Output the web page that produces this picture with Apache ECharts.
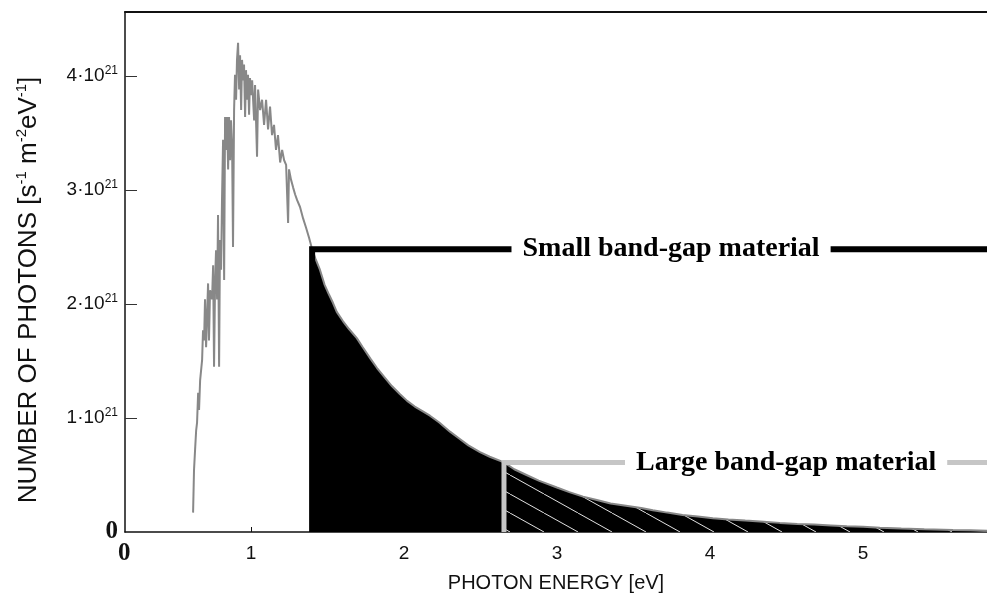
<!DOCTYPE html>
<html>
<head>
<meta charset="utf-8">
<script src="https://cdn.jsdelivr.net/npm/echarts@6/dist/echarts.min.js"></script>
<style>html,body{margin:0;padding:0;background:#fff}#c{width:987px;height:600px}</style>
</head>
<body>
<div id="c"></div>
<script>
// Photon energy [eV]
const energy = [
0.621,0.627,0.634,0.641,0.647,0.654,0.660,0.667,0.680,0.686,0.693,0.699,0.706,0.719,0.725,0.732,0.745,0.752,0.758,0.765,
0.771,0.778,0.784,0.791,0.797,0.804,0.810,0.817,0.824,0.830,0.837,0.843,0.850,0.856,0.863,0.869,0.876,0.882,0.889,0.895,
0.902,0.908,0.915,0.922,0.928,0.935,0.941,0.948,0.954,0.961,0.967,0.974,0.980,0.987,0.993,1.000,1.007,1.020,1.026,1.039,
1.046,1.059,1.072,1.085,1.098,1.111,1.124,1.137,1.150,1.163,1.176,1.190,1.203,1.216,1.229,1.242,1.248,1.261,1.275,1.288,
1.301,1.320,1.340,1.359,1.379,1.399,1.42,1.45,1.48,1.51,1.535,1.56,1.60,1.64,1.691,1.73,1.78,1.822,1.87,1.92,
1.972,2.02,2.07,2.12,2.169,2.23,2.30,2.36,2.42,2.496,2.56,2.653,2.72,2.80,2.88,2.999,3.08,3.17,3.26,3.35,
3.45,3.55,3.626,3.72,3.82,3.92,4.018,4.12,4.23,4.35,4.456,4.57,4.68,4.79,4.894,5.00,5.11,5.25,5.40,5.587,
5.70,5.81
];
// Number of photons [10^21 s^-1 m^-2 eV^-1]
const photons = [
0.17,0.54,0.72,0.89,0.96,1.22,1.07,1.33,1.51,1.77,1.68,2.04,1.62,2.18,1.68,2.12,2.04,2.34,1.45,2.21,
2.47,2.04,2.78,1.45,2.56,2.30,2.91,3.44,2.21,3.64,3.35,3.64,3.18,3.64,3.26,3.61,3.39,2.50,3.70,4.01,
3.79,4.14,4.29,3.88,4.18,3.70,4.14,3.96,4.10,3.64,4.05,3.79,4.01,3.66,3.98,3.83,3.96,3.61,3.92,3.29,
3.88,3.70,3.79,3.57,3.79,3.53,3.73,3.48,3.57,3.35,3.48,3.24,3.35,3.26,3.22,2.71,3.18,3.09,3.02,2.96,
2.91,2.85,2.75,2.67,2.58,2.48,2.40,2.30,2.17,2.08,2.01,1.93,1.85,1.78,1.70,1.62,1.52,1.44,1.36,1.28,
1.21,1.15,1.10,1.06,1.02,0.96,0.88,0.82,0.76,0.70,0.66,0.61,0.55,0.50,0.45,0.39,0.35,0.31,0.28,0.25,
0.23,0.21,0.19,0.17,0.15,0.135,0.12,0.11,0.10,0.09,0.08,0.07,0.065,0.058,0.05,0.045,0.038,0.03,0.024,0.018,
0.015,0.012
];
const xTicks = [1, 2, 3, 4, 5];
const yTicks = [0, 1, 2, 3, 4];
const smallGap = 1.399;   // eV
const largeGap = 2.653;   // eV
const smallLevel = 2.48;
const largeLevel = 0.61;
const xMin = 0.176, xMax = 5.81, yMax = 4.56;
const smallText = 'Small band-gap material';
const largeText = 'Large band-gap material';
const smallTextAt = 3.745;
const largeTextAt = 4.497;

const spectrum = energy.map((e, i) => [e, photons[i]]);
const absorbedSmall = spectrum.filter(p => p[0] >= smallGap);
const absorbedLarge = spectrum.filter(p => p[0] >= largeGap);

// hatch pattern: white diagonal lines on black
const pc = document.createElement('canvas');
pc.width = 34; pc.height = 19;
const g = pc.getContext('2d');
g.fillStyle = '#000'; g.fillRect(0, 0, 34, 19);
g.strokeStyle = '#e0e0e0'; g.lineWidth = 1;
g.beginPath(); g.moveTo(-2, -19 * 2 / 34); g.lineTo(36, 19 + 19 * 2 / 34); g.stroke();

const chart = echarts.init(document.getElementById('c'), null, {renderer: 'canvas'});
const sans = 'Liberation Sans, Arial, sans-serif';
const serif = 'Liberation Serif, Times New Roman, serif';
chart.setOption({
  animation: false,
  backgroundColor: '#fff',
  grid: {left: 125, right: 0, top: 12, bottom: 68},
  xAxis: [{
    type: 'value', min: xMin, max: xMax,
    splitLine: {show: false},
    axisLine: {lineStyle: {color: '#111', width: 1.5}},
    axisTick: {inside: true, length: 5, customValues: xTicks, lineStyle: {color: '#111'}},
    axisLabel: {customValues: xTicks, fontFamily: sans, fontSize: 19, color: '#111', margin: 12},
    name: 'PHOTON ENERGY [eV]', nameLocation: 'middle', nameGap: 41,
    nameTextStyle: {fontFamily: sans, fontSize: 20, color: '#111'}
  }, {
    type: 'value', min: xMin, max: xMax, position: 'top',
    splitLine: {show: false}, axisTick: {show: false}, axisLabel: {show: false},
    axisLine: {lineStyle: {color: '#111', width: 2}}
  }],
  yAxis: {
    type: 'value', min: 0, max: yMax,
    splitLine: {show: false},
    axisLine: {lineStyle: {color: '#111', width: 1.5}},
    axisTick: {inside: true, length: 12, customValues: [1, 2, 3, 4], lineStyle: {color: '#333'}},
    axisLabel: {
      customValues: yTicks, margin: 7,
      formatter: v => v === 0 ? '{z|0}' : '{b|' + v + '·10}{s|21}',
      rich: {
        z: {fontFamily: serif, fontSize: 25, fontWeight: 'bold', color: '#111'},
        b: {fontFamily: sans, fontSize: 19, color: '#111'},
        s: {fontFamily: sans, fontSize: 12, color: '#111', verticalAlign: 'top', padding: [0, 0, 11, 0]}
      }
    },
    name: '{t|NUMBER OF PHOTONS [s}{s|-1}{t| m}{s|-2}{t|eV}{s|-1}{t|]}',
    nameLocation: 'middle', nameRotate: 90, nameGap: 82,
    nameTextStyle: {
      padding: [0, 36, 0, 0],
      rich: {
        t: {fontFamily: sans, fontSize: 26, color: '#111'},
        s: {fontFamily: sans, fontSize: 15, color: '#111', verticalAlign: 'top', padding: [0, 0, 14, 0]}
      }
    }
  },
  graphic: [{
    type: 'text', left: 118, top: 541,
    style: {text: '0', font: 'bold 25px ' + serif, fill: '#111'}
  }],
  series: [
    {type: 'line', data: absorbedSmall, showSymbol: false, silent: true,
     lineStyle: {width: 0}, areaStyle: {color: '#000', opacity: 1}, z: 1},
    {type: 'line', data: absorbedLarge, showSymbol: false, silent: true,
     lineStyle: {width: 0}, areaStyle: {color: {image: pc, repeat: 'repeat'}, opacity: 1}, z: 2},
    {type: 'line', data: spectrum, showSymbol: false, silent: true,
     lineStyle: {color: '#888', width: 2}, z: 3},
    {type: 'line', data: [[smallGap, 0], [smallGap, smallLevel], [xMax, smallLevel]], showSymbol: false, silent: true,
     lineStyle: {color: '#000', width: 6, cap: 'butt', join: 'miter'}, z: 4},
    {type: 'line', data: [[largeGap, 0], [largeGap, largeLevel], [xMax, largeLevel]], showSymbol: false, silent: true,
     lineStyle: {color: '#c6c6c6', width: 5, cap: 'butt', join: 'miter'}, z: 4},
    {type: 'scatter', symbolSize: 0, silent: true, z: 5,
     itemStyle: {opacity: 1},
     data: [[smallTextAt, smallLevel, smallText], [largeTextAt, largeLevel, largeText]],
     label: {show: true, position: 'inside', formatter: p => p.data[2],
       fontFamily: serif, fontWeight: 'bold', fontSize: 28, color: '#000', opacity: 1,
       backgroundColor: '#fff', padding: [2, 11, 2, 11]}}
  ]
});
</script>
</body>
</html>
